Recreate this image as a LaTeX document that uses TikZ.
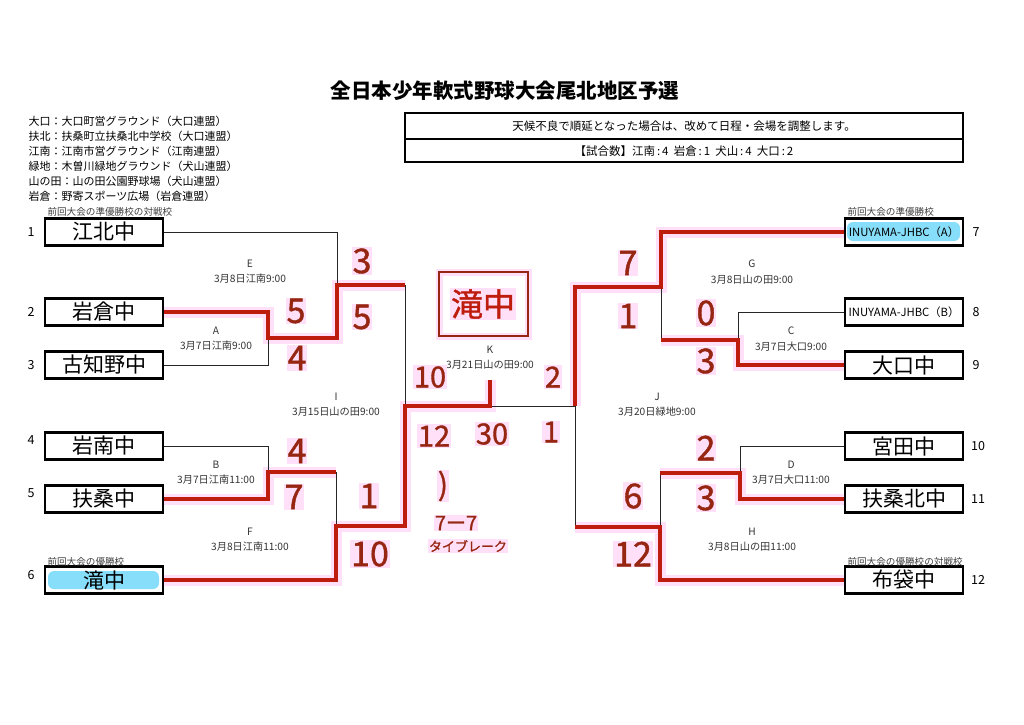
\documentclass[tikz,border=0pt]{standalone}
\usepackage{fontspec}
\setmainfont{Noto Sans CJK JP}
\newfontfamily\hwfont{Noto Sans CJK JP}[FakeBold=1.2]
\definecolor{hwred}{RGB}{190,28,12}
\definecolor{hwtext}{RGB}{150,38,18}
\definecolor{glow}{RGB}{255,224,248}
\definecolor{hlblue}{RGB}{135,222,250}
\newcommand{\fs}[1]{\fontsize{#1}{#1}\selectfont}
\newcommand{\myredpaths}[1]{%
  \draw[#1] (t2.east) -- (a2) -- (am) -- (ea) -- (eo) -- (it);
  \draw[#1] (t5.east) -- (b5) -- (bm) -- (ft);
  \draw[#1] (t6.east) -- (fb) -- (fm) -- (ib) -- (im) -- (km) -- (ks);
  \draw[#1] (t7.west) -- (gt) -- (gm) -- (jt) -- (jm);
  \draw[#1] (t9.west) -- (cb) -- (cm) -- (gb);
  \draw[#1] (t11.west) -- (db) -- (dm) -- (ht);
  \draw[#1] (t12.west) -- (hb) -- (hm) -- (jb);
}
\begin{document}
\begin{tikzpicture}[x=1pt,y=-1pt,
  teambox/.style={draw,line width=2.2pt,minimum width=118pt,minimum height=27pt,inner sep=0pt,font=\fs{21}},
  thinline/.style={line width=0.9pt,black!85},
  redglow/.style={line width=11pt,color=glow,line join=miter},
  redline/.style={line width=4pt,color=hwred,line join=miter},
  score/.style={font=\hwfont\fs{34},text=hwtext,fill=glow,inner sep=1pt},
  mscore/.style={font=\hwfont\fs{29},text=hwtext,fill=glow,inner sep=1pt},
  seed/.style={font=\fs{12.5}},
  mlabel/.style={font=\fs{10.2},text=black!80},
  caption/.style={font=\fs{9.6},text=black!75,anchor=west},
  legend/.style={font=\fs{11},anchor=west}]
\fill[white] (0,0) rectangle (1024,724);
\useasboundingbox (0,0) rectangle (1024,724);

% title
\node[font=\fs{20.5}\bfseries] (title) at (505,91) {全日本少年軟式野球大会尾北地区予選};

% legend
\node[legend] (lg1) at (25,121) {大口：大口町営グラウンド（大口連盟）};
\node[legend] (lg2) at (25,136) {扶北：扶桑町立扶桑北中学校（大口連盟）};
\node[legend] (lg3) at (25,151) {江南：江南市営グラウンド（江南連盟）};
\node[legend] (lg4) at (25,166) {緑地：木曽川緑地グラウンド（犬山連盟）};
\node[legend] (lg5) at (25,181) {山の田：山の田公園野球場（犬山連盟）};
\node[legend] (lg6) at (25,196) {岩倉：野寄スポーツ広場（岩倉連盟）};

% info box
\draw[line width=1.3pt] (405,113) rectangle (963,162);
\draw[line width=1.3pt] (405,139) -- (963,139);
\node[font=\fs{11.5}] (info1) at (684,126) {天候不良で順延となった場合は、改めて日程・会場を調整します。};
\node[font=\fs{11.5}] (info2) at (684,151) {【試合数】江南\,:\,4\ \ 岩倉\,:\,1\ \ 犬山\,:\,4\ \ 大口\,:\,2};

% highlights
\fill[hlblue,rounded corners=6pt] (48,571) rectangle (159,589);
\fill[hlblue,rounded corners=6pt] (847,222) rectangle (960,241);

% team boxes
\node[teambox] (t1) at (104,232) {江北中};
\node[teambox] (t2) at (104,312) {岩倉中};
\node[teambox] (t3) at (104,365) {古知野中};
\node[teambox] (t4) at (104,446) {岩南中};
\node[teambox] (t5) at (104,499) {扶桑中};
\node[teambox] (t6) at (104,580) {滝中};
\node[teambox,font=\fs{11.3}] (t7) at (904,232) {INUYAMA-JHBC（A）};
\node[teambox,font=\fs{11.3}] (t8) at (904,312) {INUYAMA-JHBC（B）};
\node[teambox] (t9) at (904,365) {大口中};
\node[teambox] (t10) at (904,446) {宮田中};
\node[teambox] (t11) at (904,499) {扶桑北中};
\node[teambox] (t12) at (904,580) {布袋中};

% seed numbers
\node[seed] (n1) at (31,232) {1};
\node[seed] (n2) at (31,312) {2};
\node[seed] (n3) at (31,365) {3};
\node[seed] (n4) at (31,440) {4};
\node[seed] (n5) at (31,493) {5};
\node[seed] (n6) at (31,575) {6};
\node[seed] (n7) at (976,232) {7};
\node[seed] (n8) at (976,312) {8};
\node[seed] (n9) at (976,365) {9};
\node[seed] (n10) at (978,446) {10};
\node[seed] (n11) at (978,499) {11};
\node[seed] (n12) at (978,580) {12};

% captions
\node[caption] (c1) at (44,212) {前回大会の準優勝校の対戦校};
\node[caption] (c6) at (44,562) {前回大会の優勝校};
\node[caption] (c7) at (844,212) {前回大会の準優勝校};
\node[caption] (c12) at (844,562) {前回大会の優勝校の対戦校};

% bracket coordinates
\coordinate (a2) at (268,312); \coordinate (a3) at (268,365); \coordinate (am) at (268,338);
\coordinate (et) at (337,232); \coordinate (ea) at (337,338); \coordinate (eo) at (337,285);
\coordinate (b4) at (268,446); \coordinate (b5) at (268,499); \coordinate (bm) at (268,472);
\coordinate (ft) at (336,472); \coordinate (fb) at (336,580); \coordinate (fm) at (336,526);
\coordinate (it) at (405,285); \coordinate (ib) at (405,526); \coordinate (im) at (405,406);
\coordinate (km) at (490,406); \coordinate (ks) at (490,380);
\coordinate (jt) at (575,287); \coordinate (jb) at (575,527); \coordinate (jm) at (575,406);
\coordinate (gt) at (661,232); \coordinate (gb) at (661,340); \coordinate (gm) at (661,287);
\coordinate (ct) at (738,312); \coordinate (cb) at (738,365); \coordinate (cm) at (738,340);
\coordinate (dt) at (740,446); \coordinate (db) at (740,499); \coordinate (dm) at (740,473);
\coordinate (ht) at (660,473); \coordinate (hb) at (660,580); \coordinate (hm) at (660,527);

% glows
\myredpaths{redglow}

% thin black lines
\draw[thinline] (t1.east) -- (et) -- (eo);
\draw[thinline] (t3.east) -- (a3) -- (am);
\draw[thinline] (it) -- (im);
\draw[thinline] (t4.east) -- (b4) -- (bm);
\draw[thinline] (ft) -- (fm);
\draw[thinline] (km) -- (jm) -- (jb);
\draw[thinline] (gm) -- (gb);
\draw[thinline] (t8.west) -- (ct) -- (cm);
\draw[thinline] (t10.west) -- (dt) -- (dm);
\draw[thinline] (ht) -- (hm);

% red lines
\myredpaths{redline}

% match labels
\node[mlabel,align=center] (mE) at (250,272) {E\\[5pt]3月8日江南9:00};
\node[mlabel,align=center] (mA) at (216,339) {A\\[5pt]3月7日江南9:00};
\node[mlabel,align=center] (mI) at (336,405) {I\\[5pt]3月15日山の田9:00};
\node[mlabel,align=center] (mB) at (216,473) {B\\[5pt]3月7日江南11:00};
\node[mlabel,align=center] (mF) at (250,540) {F\\[5pt]3月8日江南11:00};
\node[mlabel,align=center] (mK) at (490,358) {K\\[5pt]3月21日山の田9:00};
\node[mlabel,align=center] (mG) at (752,272) {G\\[5pt]3月8日山の田9:00};
\node[mlabel,align=center] (mC) at (791,339) {C\\[5pt]3月7日大口9:00};
\node[mlabel,align=center] (mJ) at (657,405) {J\\[5pt]3月20日緑地9:00};
\node[mlabel,align=center] (mD) at (791,473) {D\\[5pt]3月7日大口11:00};
\node[mlabel,align=center] (mH) at (752,540) {H\\[5pt]3月8日山の田11:00};

% champion box
\draw[line width=7pt,color=glow] (439,272) rectangle (528,336);
\draw[draw=hwtext,line width=2.5pt] (439,272) rectangle (528,336);
\node[font=\hwfont\fs{32},text=hwred,fill=glow,inner sep=1pt] (champ) at (483,304) {滝中};

% scores left
\node[score] (s1) at (296,311) {5};
\node[score] (s2) at (297,358) {4};
\node[score] (s3) at (362,261) {3};
\node[score] (s4) at (362,317) {5};
\node[score] (s5) at (297,451) {4};
\node[score] (s6) at (294,497) {7};
\node[score] (s7) at (369,496) {1};
\node[score] (s8) at (370,554) {10};
% scores centre
\node[mscore] (s9) at (430,377) {10};
\node[mscore] (s10) at (553,377) {2};
\node[mscore] (s11) at (434,436) {12};
\node[mscore] (s12) at (492,434) {30};
\node[mscore] (s13) at (551,432) {1};
\node[mscore,font=\hwfont\fs{30}] (s14) at (443,486) {)};
\node[mscore,font=\hwfont\fs{20}] (s15) at (456,523) {7ー7};
\node[mscore,font=\hwfont\fs{13}] (s16) at (468,546) {タイブレーク};
% scores right
\node[score] (s17) at (628,263) {7};
\node[score] (s18) at (628,316) {1};
\node[score] (s19) at (706,313) {0};
\node[score] (s20) at (706,361) {3};
\node[score] (s21) at (706,448) {2};
\node[score] (s22) at (706,498) {3};
\node[score] (s23) at (633,496) {6};
\node[score] (s24) at (633,554) {12};
\end{tikzpicture}
\end{document}
